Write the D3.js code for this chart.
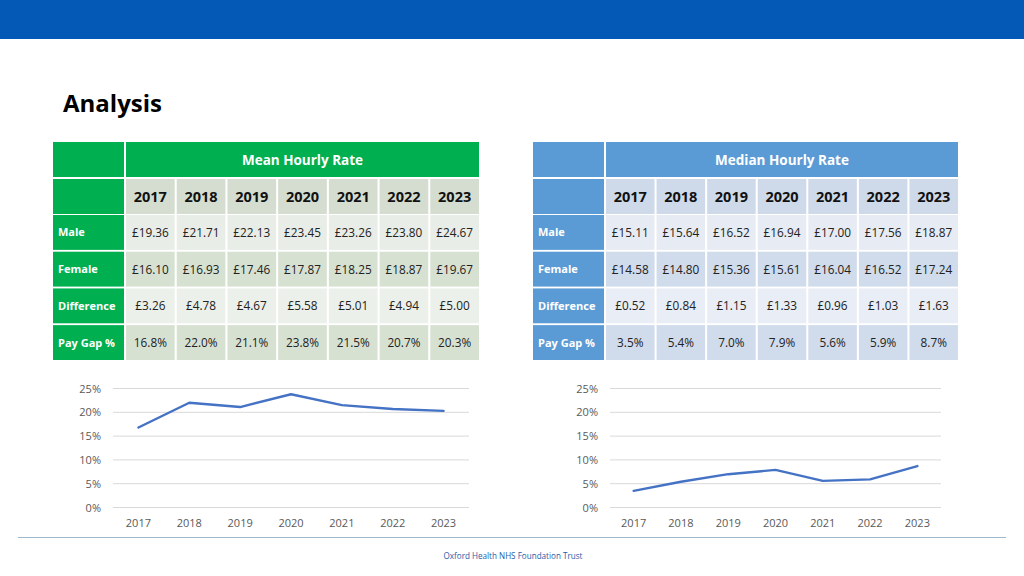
<!DOCTYPE html>
<html><head><meta charset="utf-8">
<script src="https://cdn.jsdelivr.net/npm/d3@7"></script>
<style>
html,body{margin:0;padding:0;background:#fff;}
svg{display:block;font-family:"Open Sans","Noto Sans",sans-serif;}
</style></head>
<body>
<svg id="c" width="1024" height="576"></svg>
<script>
const years = [2017, 2018, 2019, 2020, 2021, 2022, 2023];
const rowLabels = ["Male", "Female", "Difference", "Pay Gap %"];
const meanMale   = [19.36, 21.71, 22.13, 23.45, 23.26, 23.80, 24.67];
const meanFemale = [16.10, 16.93, 17.46, 17.87, 18.25, 18.87, 19.67];
const meanDiff   = [3.26, 4.78, 4.67, 5.58, 5.01, 4.94, 5.00];
const meanGap    = [16.8, 22.0, 21.1, 23.8, 21.5, 20.7, 20.3];
const medianMale   = [15.11, 15.64, 16.52, 16.94, 17.00, 17.56, 18.87];
const medianFemale = [14.58, 14.80, 15.36, 15.61, 16.04, 16.52, 17.24];
const medianDiff   = [0.52, 0.84, 1.15, 1.33, 0.96, 1.03, 1.63];
const medianGap    = [3.5, 5.4, 7.0, 7.9, 5.6, 5.9, 8.7];
const yTicks = [0, 5, 10, 15, 20, 25];

const svg = d3.select("#c");

// top bar
svg.append("rect").attr("x",0).attr("y",0).attr("width",1024).attr("height",39).attr("fill","#0559B6");
// title
svg.append("text").attr("x",63).attr("y",112).attr("font-size",24).attr("font-weight",700)
  .attr("fill","#000").text("Analysis");

const money = d3.format(".2f");
function drawTable(cfg){
  const g = svg.append("g");
  const colX = d3.scaleBand().domain(years).range([cfg.x1, cfg.x2]).paddingInner(0.04);
  const rowY = d3.scaleBand().domain(rowLabels).range([215, 360]).paddingInner(0.05);
  const gap = 2;
  // header row
  g.append("rect").attr("x",cfg.x0).attr("y",142).attr("width",cfg.x1-cfg.x0-gap).attr("height",35).attr("fill",cfg.main);
  g.append("rect").attr("x",cfg.x1).attr("y",142).attr("width",cfg.x2-cfg.x1).attr("height",35).attr("fill",cfg.main);
  g.append("text").attr("x",(cfg.x1+cfg.x2)/2).attr("y",165).attr("text-anchor","middle")
    .attr("font-size",13.5).attr("font-weight",700).attr("fill","#fff").text(cfg.title);
  // year row
  g.append("rect").attr("x",cfg.x0).attr("y",179).attr("width",cfg.x1-cfg.x0-gap).attr("height",35).attr("fill",cfg.main);
  g.selectAll(".yr").data(years).join("rect").attr("x",d=>colX(d)).attr("y",179)
    .attr("width",colX.bandwidth()).attr("height",35).attr("fill",cfg.yearBg);
  g.selectAll(".yt").data(years).join("text").attr("x",d=>colX(d)+colX.bandwidth()/2).attr("y",202)
    .attr("text-anchor","middle").attr("font-size",14.5).attr("font-weight",700).attr("fill","#111").text(d=>d);
  // body rows
  const rows = rowLabels.map((lab,i)=>({lab, vals: cfg.rows[i], fmt: i===3 ? (v=>v.toFixed(1)+"%") : (v=>"£"+money(v)), bg: cfg.rowBg[i]}));
  rows.forEach(r=>{
    g.append("rect").attr("x",cfg.x0).attr("y",rowY(r.lab)).attr("width",cfg.x1-cfg.x0-gap).attr("height",rowY.bandwidth()).attr("fill",cfg.main);
    g.append("text").attr("x",cfg.x0+5).attr("y",rowY(r.lab)+rowY.bandwidth()/2+4).attr("font-size",11)
      .attr("font-weight",700).attr("fill","#fff").text(r.lab);
    g.selectAll(null).data(r.vals).join("rect").attr("x",(d,i)=>colX(years[i])).attr("y",rowY(r.lab))
      .attr("width",colX.bandwidth()).attr("height",rowY.bandwidth()).attr("fill",r.bg);
    g.selectAll(null).data(r.vals).join("text").attr("x",(d,i)=>colX(years[i])+colX.bandwidth()/2)
      .attr("y",rowY(r.lab)+rowY.bandwidth()/2+4.5).attr("text-anchor","middle").attr("font-size",11.8)
      .attr("fill","#222").text(d=>r.fmt(d));
  });
}
drawTable({x0:53, x1:126, x2:479, main:"#00B050", title:"Mean Hourly Rate", yearBg:"#D4DDCF",
  rowBg:["#E9EDE7","#D7E1D2","#ECF0EA","#D7E1D2"], rows:[meanMale, meanFemale, meanDiff, meanGap]});
drawTable({x0:533, x1:606, x2:958, main:"#5B9BD5", title:"Median Hourly Rate", yearBg:"#CED9EA",
  rowBg:["#E7EBF3","#D0DBEC","#E9EDF5","#D0DBEC"], rows:[medianMale, medianFemale, medianDiff, medianGap]});

function drawChart(cfg){
  const g = svg.append("g");
  const x = d3.scalePoint().domain(years).range([cfg.l, cfg.r]).padding(0.5);
  const y = d3.scaleLinear().domain([0,25]).range([507.5, 388.5]);
  g.selectAll(".grid").data(yTicks).join("line").attr("x1",cfg.l).attr("x2",cfg.r)
    .attr("y1",d=>y(d)).attr("y2",d=>y(d)).attr("stroke","#D9D9D9").attr("stroke-width",1);
  g.selectAll(".yl").data(yTicks).join("text").attr("x",cfg.l-12).attr("y",d=>y(d)+4)
    .attr("text-anchor","end").attr("font-size",11).attr("fill","#595959").text(d=>d+"%");
  g.selectAll(".xl").data(years).join("text").attr("x",d=>x(d)).attr("y",527)
    .attr("text-anchor","middle").attr("font-size",11).attr("fill","#595959").text(d=>d);
  const line = d3.line().x((d,i)=>x(years[i])).y(d=>y(d));
  g.append("path").datum(cfg.vals).attr("d",line).attr("fill","none").attr("stroke","#4472C4")
    .attr("stroke-width",2.4).attr("stroke-linejoin","round").attr("stroke-linecap","round");
}
drawChart({l:113, r:469, vals: meanGap});
drawChart({l:610, r:941, vals: medianGap});

// footer
svg.append("line").attr("x1",18).attr("x2",1006).attr("y1",537.5).attr("y2",537.5).attr("stroke","#9DB8CC").attr("stroke-width",1);
svg.append("text").attr("x",513).attr("y",559).attr("text-anchor","middle").attr("font-size",8.1)
  .attr("fill","#1F5CA8").text("Oxford Health NHS Foundation Trust");
</script>
</body></html>
